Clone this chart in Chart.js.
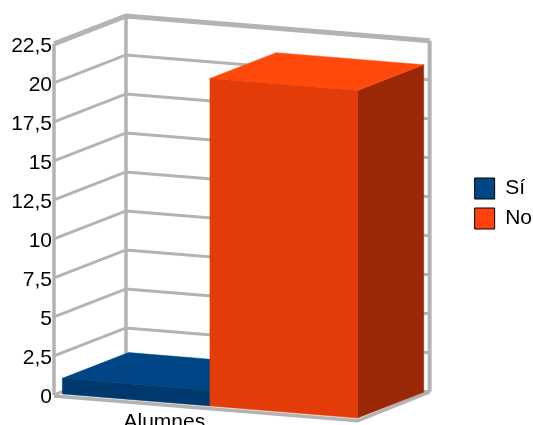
<!DOCTYPE html>
<html>
<head>
<meta charset="utf-8">
<style>
  html, body { margin: 0; padding: 0; background: #fff; overflow: hidden; }
  #wrap { width: 533px; height: 425px; }
</style>
<script src="https://cdn.jsdelivr.net/npm/chart.js@4"></script>
</head>
<body>
<div id="wrap"><canvas id="chart"></canvas></div>
<script>
// Data
const categories = ['Alumnes'];
const siValues = [1];
const noValues = [21];
const yTickLabels = ['0', '2,5', '5', '7,5', '10', '12,5', '15', '17,5', '20', '22,5'];

// Face colours per series: top, front, side
const faces = {
    'Sí': { top: '#004586', front: '#00396e', side: '#002a52' },
    'No': { top: '#ff4a0c', front: '#e43c08', side: '#9a2806' }
};
const wallColor = '#b3b3b3';

// Oblique view: how far the back of the box moves per unit of depth,
// and how far the floor drops going left to right
const depthX = 72;
const depthY = -28;
const floorSlope = 0.082;
const barDepthStart = 0.05;
const barDepthEnd = 0.97;

function project(chart, x, y, depth) {
    const left = chart.chartArea.left;
    return {
        x: x + depthX * depth,
        y: y + (x - left) * floorSlope + depthY * depth
    };
}

function polygon(ctx, pts, fill) {
    ctx.beginPath();
    pts.forEach((p, i) => i ? ctx.lineTo(p.x, p.y) : ctx.moveTo(p.x, p.y));
    ctx.closePath();
    ctx.fillStyle = fill;
    ctx.fill();
    ctx.strokeStyle = fill;
    ctx.lineWidth = 0.5;
    ctx.stroke();
}

function polyline(ctx, pts, width, color) {
    ctx.beginPath();
    pts.forEach((p, i) => i ? ctx.lineTo(p.x, p.y) : ctx.moveTo(p.x, p.y));
    ctx.lineWidth = width;
    ctx.strokeStyle = color;
    ctx.lineJoin = 'miter';
    ctx.stroke();
}

function drawWalls(chart) {
    const ctx = chart.ctx;
    const area = chart.chartArea;
    const yScale = chart.scales.y;
    const wallLeft = area.left - 1;

    yScale.ticks.forEach((tick, i) => {
        const y = yScale.getPixelForValue(tick.value);
        const isTop = i === yScale.ticks.length - 1;
        polyline(ctx, [
            project(chart, wallLeft, y, 0),
            project(chart, wallLeft, y, 1),
            project(chart, area.right, y, 1)
        ], isTop ? 5 : 3, wallColor);
    });

    // Upright edges
    const top = yScale.getPixelForValue(yScale.max);
    const bottom = yScale.getPixelForValue(0);
    polyline(ctx, [project(chart, wallLeft, top, 0), project(chart, wallLeft, bottom, 0)], 3.5, wallColor);
    polyline(ctx, [project(chart, wallLeft, top, 1), project(chart, wallLeft, bottom, 1)], 3.5, wallColor);
    polyline(ctx, [project(chart, area.right, top, 1), project(chart, area.right, bottom, 1)], 4, wallColor);

    // Floor front edges
    polyline(ctx, [
        project(chart, wallLeft, bottom + 1, 0),
        project(chart, area.right, bottom + 1, 0),
        project(chart, area.right, bottom, 1)
    ], 3.5, wallColor);
}

function drawBar(chart, datasetIndex) {
    const ctx = chart.ctx;
    const yScale = chart.scales.y;
    const bar = chart.getDatasetMeta(datasetIndex).data[0];
    const color = faces[chart.data.datasets[datasetIndex].label];
    const l = bar.x - bar.width / 2;
    const r = bar.x + bar.width / 2;
    const t = bar.y;
    const b = yScale.getPixelForValue(0);
    const d0 = barDepthStart;
    const d1 = barDepthEnd;

    polygon(ctx, [project(chart, r, t, d0), project(chart, r, t, d1), project(chart, r, b, d1), project(chart, r, b, d0)], color.side);
    polygon(ctx, [project(chart, l, t, d0), project(chart, l, t, d1), project(chart, r, t, d1), project(chart, r, t, d0)], color.top);
    polygon(ctx, [project(chart, l, t, d0), project(chart, r, t, d0), project(chart, r, b, d0), project(chart, l, b, d0)], color.front);
}

const box3d = {
    id: 'box3d',
    afterLayout(chart) {
        // keep the legend centred beside the box, not in the padded area
        const legend = chart.legend;
        legend.top = 0;
        legend.bottom -= 18;
        legend.left += 9;
        legend.right += 9;
    },
    beforeDatasetsDraw(chart) {
        drawWalls(chart);
        drawBar(chart, 0);
        drawBar(chart, 1);
        return false;
    }
};

const labelFont = { family: '"Liberation Sans", Arial, sans-serif', size: 21 };

new Chart(document.getElementById('chart'), {
    type: 'bar',
    data: {
        labels: categories,
        datasets: [
            { label: 'Sí', data: siValues, backgroundColor: '#004586', borderColor: '#000', borderWidth: 1 },
            { label: 'No', data: noValues, backgroundColor: '#ff420e', borderColor: '#000', borderWidth: 1 }
        ]
    },
    options: {
        responsive: true,
        maintainAspectRatio: false,
        animation: false,
        layout: { padding: { top: 44 } },
        datasets: { bar: { categoryPercentage: 0.975, barPercentage: 1 } },
        scales: {
            x: {
                grid: { display: false, drawTicks: false },
                border: { display: false },
                ticks: { color: '#000', font: labelFont, labelOffset: -42, padding: 15, maxRotation: 0 },
                afterFit(scale) { scale.height = 30; }
            },
            y: {
                min: 0,
                max: 22.5,
                grid: { display: false, drawTicks: false },
                border: { display: false },
                ticks: {
                    stepSize: 2.5,
                    color: '#000',
                    font: labelFont,
                    padding: 3,
                    labelOffset: 2,
                    autoSkip: false,
                    callback: (value, index) => yTickLabels[index]
                },
                afterFit(scale) { scale.width = 55; }
            },
            // empty axis, only keeps room between the box and the legend
            gap: {
                position: 'right',
                grid: { display: false },
                border: { display: false },
                ticks: { display: false },
                afterFit(scale) { scale.width = 99; }
            }
        },
        plugins: {
            title: { display: false },
            tooltip: { enabled: false },
            legend: {
                position: 'right',
                labels: {
                    color: '#000',
                    font: labelFont,
                    boxWidth: 20,
                    boxHeight: 21,
                    padding: 9
                }
            }
        }
    },
    plugins: [box3d]
});
</script>
</body>
</html>
